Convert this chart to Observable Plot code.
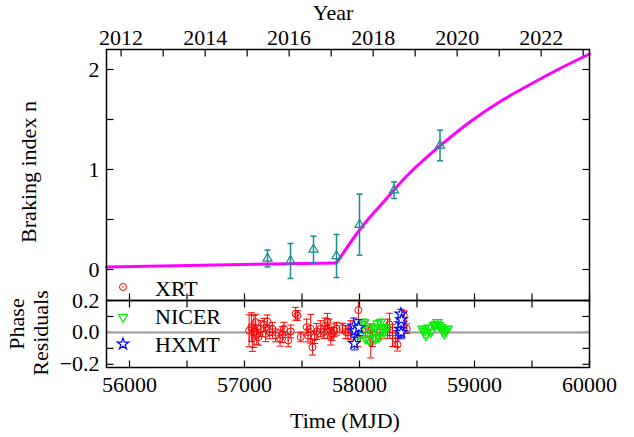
<!DOCTYPE html>
<html><head><meta charset="utf-8">
<script src="https://cdn.jsdelivr.net/npm/d3@7"></script>
<script src="https://cdn.jsdelivr.net/npm/@observablehq/plot@0.6"></script>
<style>
body{margin:0;background:#fff;}
#fig{position:relative;width:634px;height:437px;font-family:"Liberation Serif","Times New Roman",serif;}
#fig svg{position:absolute;left:0;overflow:visible;}
</style></head><body><div id="fig"></div>
<script>
// ---- data ----
const brakingMjd = [57200, 57400, 57600, 57800, 58000, 58300, 58700];
const brakingN   = [0.11, 0.085, 0.20, 0.135, 0.448, 0.793, 1.24];
const brakingErr = [0.084, 0.175, 0.133, 0.215, 0.305, 0.083, 0.153];

const modelMjd = [55800, 57800, 58000, 58150, 58300, 58450, 58707, 58969, 59230, 59491, 59752, 60000];
const modelN   = [0.026, 0.066, 0.395, 0.60, 0.795, 0.98, 1.243, 1.483, 1.685, 1.855, 2.015, 2.155];

const xrtMjd = [57040,57060,57068,57082,57097,57106,57120,57141,57169,57184,57199,57220,57242,57271,57309,57329,57343,57380,57402,57445,57460,57489,57541,57552,57576,57591,57610,57628,57663,57692,57700,57721,57735,57750,57760,57779,57802,57852,57881,57900,57924,57982,57990,58050,58092,58098,58113,58180,58243,58260,58287,58315,58330,58385,58411];
const xrtRes = [0.01,0.033,-0.039,0.006,0.064,-0.014,-0.03,0.023,0.048,-0.008,0.069,0.0,0.023,-0.019,-0.036,-0.014,0.023,-0.05,0.006,0.117,0.106,-0.029,0.033,-0.019,0.023,-0.092,-0.03,0.006,0.023,0.002,0.04,0.069,0.023,-0.029,-0.01,0.013,0.023,0.027,0.002,0.0,0.013,-0.039,0.14,0.02,0.013,-0.06,-0.039,0.0,0.023,0.05,-0.019,-0.039,-0.077,0.106,0.023];
const xrtErr = [0.10,0.09,0.08,0.10,0.05,0.06,0.05,0.05,0.04,0.05,0.04,0.04,0.04,0.04,0.05,0.05,0.04,0.04,0.04,0.04,0.03,0.03,0.05,0.04,0.09,0.05,0.04,0.05,0.05,0.04,0.05,0.05,0.06,0.05,0.04,0.04,0.04,0.03,0.04,0.04,0.06,0.05,0.06,0.05,0.04,0.10,0.05,0.04,0.06,0.07,0.07,0.05,0.04,0.03,0.03];

const nicerMjd = [57975,58000,58020,58040,58055,58069,58085,58110,58130,58140,58156,58170,58185,58200,58214,58230,58548,58560,58577,58600,58620,58649,58660,58679,58690,58708,58720,58736,58750,58766];
const nicerRes = [0.02,-0.02,0.05,0.064,-0.039,0.023,-0.05,0.0,0.03,-0.04,0.054,-0.029,0.064,0.023,0.002,0.03,0.023,0.01,-0.019,0.03,0.002,0.044,0.05,0.064,0.045,0.033,0.02,-0.008,0.01,0.023];
const nicerErr = [0.02,0.02,0.02,0.02,0.02,0.02,0.02,0.02,0.02,0.02,0.02,0.02,0.02,0.02,0.02,0.02,0.015,0.015,0.015,0.015,0.015,0.015,0.015,0.015,0.015,0.015,0.015,0.015,0.015,0.015];

const hxmtMjd = [57950,57955,57960,57994,58355,58359,58360,58362,58365];
const hxmtRes = [0.04,-0.07,0.01,0.03,0.02,0.115,0.055,0.0,0.08];
const hxmtErr = [0.05,0.04,0.04,0.05,0.05,0.03,0.03,0.04,0.03];

const mjdTicks = [56000,56500,57000,57500,58000,58500,59000,59500,60000];
const mjdLabels = [56000,57000,58000,59000,60000];
const yearTicks = [2012,2013,2014,2015,2016,2017,2018,2019,2020,2021,2022,2023];
const yearLabels = [2012,2014,2016,2018,2020,2022];
const nTicks = [0,0.5,1,1.5,2];
const nLabels = [0,1,2];
const resTicks = [-0.2,-0.1,0,0.1,0.2];
const resLabels = [-0.2,0,0.2];
const legendNames = ["XRT","NICER","HXMT"];

// ---- helpers ----
const xDomain = [55800, 60000];
const nDomain = [-0.31, 2.2];
const resDomain = [-0.22, 0.2];
const yearToMjd = yr => Date.UTC(yr, 0, 1) / 864e5 + 40587;
const seg = (dx, dy) => ({draw(c){ c.moveTo(0,0); c.lineTo(dx,dy); }});
const cap = w => ({draw(c){ c.moveTo(-w,0); c.lineTo(w,0); }});
const rows = (xs, ys, es) => xs.map((x,i) => ({x, y: ys[i], e: es ? es[i] : 0}));
const font = {fontFamily:'"Liberation Serif","Times New Roman",serif', fontSize:"22px", background:"transparent", overflow:"visible", color:"black"};
const TL = 7;

function frameTicks(xt, yt, xDom, yDom) {
  return [
    Plot.dot(xt, {x:d=>d, y:()=>yDom[0], symbol: seg(0,-TL), stroke:"black", strokeWidth:1.2, fill:"none", r:3}),
    Plot.dot(xt, {x:d=>d, y:()=>yDom[1], symbol: seg(0,TL), stroke:"black", strokeWidth:1.2, fill:"none", r:3}),
    Plot.dot(yt, {y:d=>d, x:()=>xDom[0], symbol: seg(TL,0), stroke:"black", strokeWidth:1.2, fill:"none", r:3}),
    Plot.dot(yt, {y:d=>d, x:()=>xDom[1], symbol: seg(-TL,0), stroke:"black", strokeWidth:1.2, fill:"none", r:3}),
  ];
}
function errMarks(data, color, capW, sw) {
  return [
    Plot.ruleX(data, {x:"x", y1:d=>d.y-d.e, y2:d=>d.y+d.e, stroke:color, strokeWidth:sw}),
    Plot.dot(data, {x:"x", y:d=>d.y-d.e, symbol:cap(capW), stroke:color, strokeWidth:sw, fill:"none", r:3}),
    Plot.dot(data, {x:"x", y:d=>d.y+d.e, symbol:cap(capW), stroke:color, strokeWidth:sw, fill:"none", r:3}),
  ];
}

const fig = document.getElementById("fig");

// ---- top panel ----
const brk = rows(brakingMjd, brakingN, brakingErr);
const model = rows(modelMjd, modelN);
const yearMjdTicks = yearTicks.map(yearToMjd);
const topPlot = Plot.plot({
  width:634, height:300, marginTop:49, marginBottom:0, marginLeft:106, marginRight:45,
  x:{domain:xDomain}, y:{domain:nDomain},
  style:font,
  marks:[
    Plot.axisX(yearLabels.map(yearToMjd), {anchor:"top", tickSize:0, tickPadding:5, tickFormat:(d,i)=>String(yearLabels[i]), label:null}),
    Plot.axisY(nLabels, {anchor:"left", tickSize:0, tickPadding:7, tickFormat:d=>String(d), label:null}),
    ...frameTicks(mjdTicks, nTicks, xDomain, nDomain).slice(0,1),
    Plot.dot(yearMjdTicks, {x:d=>d, y:()=>nDomain[1], symbol: seg(0,TL), stroke:"black", strokeWidth:1.2, fill:"none", r:3}),
    Plot.dot(nTicks, {y:d=>d, x:()=>xDomain[0], symbol: seg(TL,0), stroke:"black", strokeWidth:1.2, fill:"none", r:3}),
    Plot.dot(nTicks, {y:d=>d, x:()=>xDomain[1], symbol: seg(-TL,0), stroke:"black", strokeWidth:1.2, fill:"none", r:3}),
    Plot.line(model.slice(0,2), {x:"x", y:"y", stroke:"#ff00ff", strokeWidth:3}),
    Plot.line(model.slice(1), {x:"x", y:"y", stroke:"#ff00ff", strokeWidth:3, curve:"natural"}),
    ...errMarks(brk, "#1b8c8c", 3, 1.5),
    Plot.dot(brk, {x:"x", y:"y", symbol:"triangle", r:3.4, stroke:"#1b8c8c", fill:"none", strokeWidth:1.2}),
    Plot.frame({stroke:"black", strokeWidth:1.5})
  ]
});
topPlot.style.top = "0px";
fig.appendChild(topPlot);

// ---- bottom panel ----
const xrt = rows(xrtMjd, xrtRes, xrtErr);
const nic = rows(nicerMjd, nicerRes, nicerErr);
const hx = rows(hxmtMjd, hxmtRes, hxmtErr);
const botPlot = Plot.plot({
  width:634, height:137, marginTop:0, marginBottom:70, marginLeft:106, marginRight:45,
  x:{domain:xDomain}, y:{domain:resDomain},
  style:font,
  marks:[
    Plot.axisX(mjdLabels, {anchor:"bottom", tickSize:0, tickPadding:9, tickFormat:d=>String(d), label:null}),
    Plot.axisY(resLabels, {anchor:"left", tickSize:0, tickPadding:7, tickFormat:d3.format(".1f"), label:null}),
    ...frameTicks(mjdTicks, resTicks, xDomain, resDomain),
    Plot.ruleY([0], {stroke:"#999", strokeWidth:2}),
    ...errMarks(xrt, "#ff0000", 3.5, 1),
    Plot.dot(xrt, {x:"x", y:"y", r:3.5, stroke:"#ff0000", fill:"none", strokeWidth:1}),
    Plot.dot(xrt, {x:"x", y:"y", r:0.8, fill:"#ff0000"}),
    ...errMarks(nic, "#00ee00", 3, 1),
    Plot.dot(nic, {x:"x", y:"y", symbol:"triangle", rotate:180, r:3.4, stroke:"#00ee00", fill:"none", strokeWidth:1.2}),
    ...errMarks(hx, "#0000ff", 3.5, 1),
    Plot.dot(hx, {x:"x", y:"y", symbol:"star", r:3.6, stroke:"#0000ff", fill:"white", strokeWidth:1.2}),
    Plot.frame({stroke:"black", strokeWidth:1.5})
  ]
});
botPlot.style.top = "300px";
fig.appendChild(botPlot);

// ---- titles & legend overlay ----
const ov = d3.select(fig).append("svg").attr("width",634).attr("height",437).style("top","0px")
  .style("pointer-events","none")
  .attr("font-family",'"Liberation Serif","Times New Roman",serif').attr("font-size",22);
ov.append("text").attr("x",333).attr("y",20).attr("text-anchor","middle").text("Year");
ov.append("text").attr("transform","translate(36,172) rotate(-90)").attr("text-anchor","middle").text("Braking index n");
ov.append("text").attr("transform","translate(24,324) rotate(-90)").attr("text-anchor","middle").text("Phase");
ov.append("text").attr("transform","translate(48,333) rotate(-90)").attr("text-anchor","middle").text("Residuals");
ov.append("text").attr("x",345).attr("y",428).attr("text-anchor","middle").text("Time (MJD)");
const legY = [287, 317, 344];
const legBase = [296, 324, 352];
const legColors = ["#ff0000","#00ee00","#0000ff"];
legendNames.forEach((nm,i)=>{
  const g = ov.append("g").attr("transform",`translate(123,${legY[i]})`);
  if (i===0) { g.append("circle").attr("r",3.5).attr("fill","none").attr("stroke",legColors[i]);
               g.append("circle").attr("r",0.8).attr("fill",legColors[i]); }
  else if (i===1) g.append("path").attr("d", d3.symbol(d3.symbolTriangle, Math.PI*3.4*3.4)()).attr("transform","rotate(180)").attr("fill","none").attr("stroke",legColors[i]).attr("stroke-width",1.2);
  else g.append("path").attr("d", d3.symbol(d3.symbolStar, Math.PI*3.6*3.6)()).attr("fill","white").attr("stroke",legColors[i]).attr("stroke-width",1.2);
  ov.append("text").attr("x",155).attr("y",legBase[i]).text(nm);
});
</script></body></html>
